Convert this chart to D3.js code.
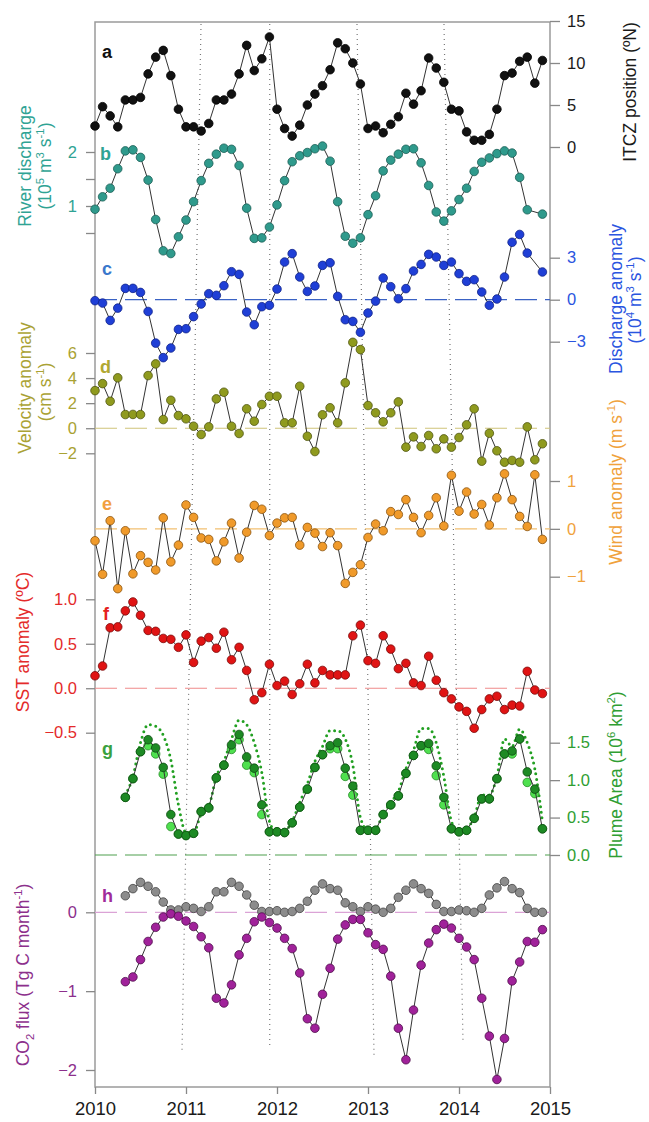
<!DOCTYPE html>
<html>
<head>
<meta charset="UTF-8">
<script src="https://d3js.org/d3.v7.min.js"></script>
<style>
  body { margin: 0; background: #fff; }
  svg { font-family: Arial, "Liberation Sans", sans-serif; }
</style>
</head>
<body>
<svg width="649" height="1122"></svg>
<script>
// monthly series Jan 2010 .. Dec 2014
const yearTicks = [2010, 2011, 2012, 2013, 2014, 2015];
const months = d3.range(60).map(i => 2010 + i / 12);

const itcz = [2.5,4.8,3.7,2.4,5.6,5.6,5.9,8.7,10.7,11.5,8.5,4.5, 2.4,2.4,1.9,2.8,5.6,5.6,6.3,8.7,12.1,9.1,10.5,13.1,
  4.5,2.2,1.3,2.6,5.0,6.3,7.3,9.2,12.4,11.7,10.0,7.5, 2.2,2.5,1.7,2.7,3.6,6.4,5.1,6.7,10.6,9.4,7.7,4.5,
  4.3,1.8,0.8,0.8,1.5,4.5,8.5,8.8,10.2,10.7,7.6,10.3];
const discharge = [0.94,1.17,1.33,1.69,2.02,2.04,1.90,1.48,0.75,0.17,0.12,0.43, 0.74,1.08,1.47,1.79,1.96,2.07,2.05,1.75,0.96,0.40,0.41,0.61,
  1.02,1.47,1.82,1.93,1.99,2.06,2.11,1.83,1.08,0.44,0.31,0.41, 0.84,1.19,1.65,1.85,1.96,2.05,2.06,1.80,1.38,0.89,0.72,0.91,
  1.12,1.33,1.64,1.81,1.89,1.97,2.02,1.98,1.53,0.93,null,0.85];
const dischargeAnom = [-0.07,-0.24,-1.48,-0.6,0.81,0.81,0.52,-0.84,-3.1,-4.14,-3.45,-2.12, -2.07,-1.21,-0.31,0.43,0.31,1.0,2.0,1.81,-0.88,-1.79,-0.5,-0.4,
  0.76,2.69,3.29,1.62,0.59,0.98,2.45,2.64,0.24,-1.43,-1.55,-2.33, -0.95,-0.1,1.55,0.93,0.07,0.79,2.05,2.52,3.24,3.05,2.45,2.69,
  1.86,1.31,1.43,0.55,-0.4,0.05,1.62,4.1,4.66,3.33,null,1.98];
const velocityAnom = [3.0,3.56,2.15,4.02,1.09,1.1,1.09,4.2,5.13,0.69,2.23,1.01, 0.75,0.16,-0.5,0.11,2.34,2.87,0.16,-0.42,1.55,0.56,1.89,2.55,
  2.55,0.43,0.43,3.35,-0.64,-1.86,1.07,1.63,0.43,3.62,6.85,6.27, 1.81,1.23,0.51,1.23,2.1,-1.51,-0.69,-1.46,-0.58,-1.64,-0.85,-1.51,
  -0.74,0.27,1.55,-2.63,-0.4,-1.8,-2.71,-2.57,-2.71,0.11,-2.52,-1.24];
const windAnom = [-0.25,-0.95,0.17,-1.25,-0.04,-0.94,-0.56,-0.7,-0.86,0.23,-0.69,-0.34, 0.5,0.24,-0.19,-0.22,-0.67,-0.27,0.12,-0.61,-0.07,0.49,0.41,-0.14,
  0.12,0.23,0.24,-0.34,0.03,-0.09,-0.37,-0.08,-0.35,-1.14,-0.91,-0.75, -0.18,0.1,-0.04,0.36,0.3,0.61,0.24,-0.08,0.28,0.65,0.06,1.12,
  0.37,0.77,0.31,0.51,0.08,0.65,1.15,0.61,0.26,0.05,1.13,-0.22];
const sstAnom = [0.14,0.25,0.68,0.69,0.87,0.97,0.82,0.65,0.64,0.56,0.55,0.46, 0.6,0.29,0.53,0.57,0.45,0.63,0.32,0.46,0.2,-0.13,-0.05,0.27,
  0.03,0.08,-0.07,0.05,0.27,0.06,0.2,0.15,0.15,0.15,0.59,0.71, 0.31,0.28,0.59,0.44,0.22,0.28,0.06,0.03,0.36,0.09,-0.05,-0.12,
  -0.21,-0.26,-0.45,-0.24,-0.12,-0.09,-0.24,-0.19,-0.2,0.19,-0.02,-0.06];
const plumeArea = [null,null,null,null,0.77,1.02,1.38,1.54,1.43,1.17,0.54,0.28, 0.26,0.29,0.58,0.63,1.03,1.2,1.47,1.61,1.31,1.16,0.67,0.31,
  0.31,0.3,0.43,0.64,0.88,1.17,1.34,1.46,1.5,1.16,0.92,0.33, 0.33,0.33,0.54,0.67,0.79,1.09,1.33,1.46,1.49,1.19,0.77,0.35,
  0.31,0.33,0.49,0.75,0.75,1.02,1.35,1.39,1.55,1.11,0.88,0.35];
const plumeAreaAlt = [null,null,null,null,0.77,1.02,1.38,1.46,1.35,1.08,0.38,0.28, 0.26,0.29,0.58,0.63,1.03,1.2,1.41,1.54,1.2,1.1,0.54,0.31,
  0.31,0.3,0.43,0.64,0.88,1.17,1.34,1.42,1.42,1.05,0.8,0.33, 0.33,0.33,0.54,0.67,0.79,1.09,1.33,1.46,1.41,1.06,0.67,0.35,
  0.31,0.33,0.49,0.75,0.75,1.02,1.35,1.35,1.55,0.97,0.82,0.35];
const plumeClim = [null,null,null,null,0.8,1.05,1.5,1.74,1.72,1.6,1.27,0.67, 0.3,0.3,0.55,0.65,1.05,1.25,1.55,1.8,1.74,1.5,1.1,0.45,
  0.3,0.32,0.45,0.7,0.95,1.25,1.45,1.66,1.66,1.55,1.2,0.5, 0.33,0.35,0.55,0.7,0.85,1.15,1.4,1.69,1.69,1.5,1.05,0.45,
  0.3,0.35,0.5,0.8,0.8,1.05,1.55,1.45,1.68,1.5,1.15,0.45];
const co2Gray = [null,null,null,null,0.21,0.3,0.38,0.33,0.26,0.13,0.03,0.03, 0.07,0.05,0.01,0.07,0.26,0.26,0.38,0.33,0.22,0.09,0.01,0.01,
  0.02,0,0.01,0.05,0.14,0.28,0.36,0.3,0.28,0.12,0.07,0.01, 0.07,0.04,0,0.05,0.19,0.28,0.36,0.3,0.24,0.1,0.01,0.01,
  0.03,0.02,0,0.05,0.22,0.31,0.39,0.3,0.25,0.05,0,0];
const co2Flux = [null,null,null,null,-0.88,-0.82,-0.6,-0.37,-0.19,-0.06,-0.02,-0.05, -0.11,-0.18,-0.31,-0.45,-1.09,-1.15,-0.92,-0.54,-0.33,-0.12,-0.06,-0.13,
  -0.2,-0.33,-0.46,-0.77,-1.35,-1.47,-1.04,-0.71,-0.34,-0.16,-0.09,-0.09, -0.26,-0.41,-0.47,-0.81,-1.47,-1.87,-1.24,-0.67,-0.39,-0.22,-0.15,-0.2,
  -0.33,-0.44,-0.6,-1.09,-1.57,-2.12,-1.6,-0.87,-0.63,-0.37,-0.38,-0.22];

// slanted dotted guide lines: [top year, bottom year, bottom CO2 value]
const guides = [[2011.165, 2010.956, -1.77], [2011.92, 2011.92, -1.73], [2012.879, 2013.066, -1.81], [2013.835, 2014.044, -1.65]];

const svg = d3.select("svg");
const plotLeft = 95, plotRight = 550, plotTop = 22, plotBottom = 1087;

const x = d3.scaleLinear().domain([2010, 2015]).range([plotLeft, plotRight]);

// one y scale per panel
const yA = d3.scaleLinear().domain([0, 15]).range([147, 21]);
const yB = d3.scaleLinear().domain([0.5, 2]).range([233, 152]);
const yC = d3.scaleLinear().domain([-3, 3]).range([341.7, 257.7]);
const yD = d3.scaleLinear().domain([-2, 6]).range([453.3, 353]);
const yE = d3.scaleLinear().domain([-1, 1]).range([576.7, 481]);
const yF = d3.scaleLinear().domain([-0.5, 1]).range([732.7, 599.3]);
const yG = d3.scaleLinear().domain([0, 1.5]).range([855, 742.7]);
const yH = d3.scaleLinear().domain([-2, 0]).range([1070, 912.3]);

// frame
svg.append("rect").attr("x", plotLeft).attr("y", plotTop).attr("width", plotRight - plotLeft).attr("height", plotBottom - plotTop)
  .attr("fill", "none").attr("stroke", "#9a9a9a").attr("stroke-width", 1.5);

// guide lines
svg.append("g").selectAll("line").data(guides).join("line")
  .attr("x1", d => x(d[0])).attr("y1", plotTop + 2)
  .attr("x2", d => x(d[1])).attr("y2", d => yH(d[2]))
  .attr("stroke", "#777").attr("stroke-width", 1.2).attr("stroke-dasharray", "1,4");

// zero reference lines
const zeros = [[yC, "#3a62c4"], [yD, "#cfc47a"], [yE, "#f2c071"], [yF, "#f08a8a"], [yG, "#4f9f4f"], [yH, "#dba3d6"]];
zeros.forEach(([s, c]) => {
  svg.append("line").attr("x1", plotLeft).attr("x2", plotRight).attr("y1", s(0)).attr("y2", s(0))
    .attr("stroke", c).attr("stroke-width", 1.2).attr("stroke-dasharray", "22,8");
});

function axis(gen, scale, xpos, ticks, fmt, color) {
  const isLeft = gen === d3.axisLeft;
  const g = svg.append("g").attr("transform", `translate(${xpos},0)`)
    .call(gen(scale).tickValues(ticks).tickFormat(fmt).tickSize(isLeft ? 9 : 10).tickPadding(isLeft ? 9 : 7));
  g.select(".domain").remove();
  g.selectAll(".tick line").attr("stroke", "#888").attr("stroke-width", 1.3);
  g.selectAll(".tick text").attr("fill", color).style("font-size", "16.5px").style("font-family", "Arial, 'Liberation Sans', sans-serif");
}
axis(d3.axisRight, yA, plotRight, [0, 5, 10, 15], d3.format("d"), "#1a1a1a");
axis(d3.axisLeft, yB, plotLeft, [0.5, 1, 1.5, 2], d => Number.isInteger(d) ? d : "", "#2fa394");
axis(d3.axisRight, yC, plotRight, [-3, 0, 3], d3.format("d"), "#2a55e0");
axis(d3.axisLeft, yD, plotLeft, [-2, 0, 2, 4, 6], d3.format("d"), "#a9a233");
axis(d3.axisRight, yE, plotRight, [-1, 0, 1], d3.format("d"), "#f0a23c");
axis(d3.axisLeft, yF, plotLeft, [-0.5, 0, 0.5, 1], d3.format(".1f"), "#e42a2a");
axis(d3.axisRight, yG, plotRight, [0, 0.5, 1, 1.5], d3.format(".1f"), "#2f9e32");
axis(d3.axisLeft, yH, plotLeft, [-2, -1, 0], d3.format("d"), "#8c2f8c");

const xg = svg.append("g").attr("transform", `translate(0,${plotBottom})`)
  .call(d3.axisBottom(x).tickValues(yearTicks).tickFormat(d3.format("d")).tickSize(7).tickPadding(8));
xg.select(".domain").remove();
xg.selectAll(".tick line").attr("stroke", "#888").attr("stroke-width", 1.3);
xg.selectAll(".tick text").attr("fill", "#1a1a1a").style("font-size", "18.5px");

// series drawing
function series(values, y, fill, stroke, r, withLine = true) {
  const pts = values.map((v, i) => [months[i], v]).filter(d => d[1] !== null);
  if (withLine) {
    svg.append("path").datum(pts)
      .attr("d", d3.line().x(d => x(d[0])).y(d => y(d[1])))
      .attr("fill", "none").attr("stroke", "#333").attr("stroke-width", 1);
  }
  svg.append("g").selectAll("circle").data(pts).join("circle")
    .attr("cx", d => x(d[0])).attr("cy", d => y(d[1])).attr("r", r)
    .attr("fill", fill).attr("stroke", stroke).attr("stroke-width", 0.8);
}

series(itcz, yA, "#111", "#000", 4.3);
series(discharge, yB, "#2f9a8c", "#1c5e55", 4.3);
series(dischargeAnom, yC, "#1f3fd6", "#10238a", 4.3);
series(velocityAnom, yD, "#8f9a1e", "#4f5510", 4.3);
series(windAnom, yE, "#f09a2a", "#8a5410", 4.3);
series(sstAnom, yF, "#e01414", "#7a0a0a", 4.3);

// plume: climatology dotted, alt light circles, main dark circles
const climPts = plumeClim.map((v, i) => [months[i], v]).filter(d => d[1] !== null);
svg.append("path").datum(climPts)
  .attr("d", d3.line().curve(d3.curveMonotoneX).x(d => x(d[0])).y(d => yG(d[1])))
  .attr("fill", "none").attr("stroke", "#22a022").attr("stroke-width", 3)
  .attr("stroke-linecap", "round").attr("stroke-dasharray", "0,5.5");
series(plumeAreaAlt, yG, "#4fe04f", "#2a8a2a", 4.3, false);
series(plumeArea, yG, "#1d8a24", "#0c4a10", 4.3);

series(co2Gray, yH, "#8c8c8c", "#444", 4.3);
series(co2Flux, yH, "#a0229a", "#4e0c4a", 4.3);

// panel letters
const letters = [["a", 102, 58, "#111"], ["b", 100, 160, "#2fa394"], ["c", 102, 275, "#3a78cc"], ["d", 100, 373, "#b0a832"],
  ["e", 102, 510, "#f2a040"], ["f", 103, 620, "#e42020"], ["g", 102, 755, "#3aa140"], ["h", 102, 902, "#a02c9a"]];
svg.append("g").selectAll("text").data(letters).join("text")
  .attr("x", d => d[1]).attr("y", d => d[2]).attr("fill", d => d[3])
  .style("font-size", "18px").style("font-weight", "bold").text(d => d[0]);

// axis titles with super/subscripts (all read bottom-to-top)
function rich(xp, yp, parts, color, size) {
  const t = svg.append("text").attr("transform", `translate(${xp},${yp}) rotate(-90)`)
    .attr("text-anchor", "middle").attr("fill", color).style("font-size", size + "px");
  let shift = 0;
  parts.forEach(([s, kind]) => {
    const target = kind === "sup" ? -size * 0.42 : kind === "sub" ? size * 0.28 : 0;
    const ts = t.append("tspan").attr("dy", target - shift).text(s);
    if (kind) ts.style("font-size", (size * 0.65) + "px");
    shift = target;
  });
}
const titleSize = 17.5;
rich(31, 166, [["River discharge"]], "#2fa394", titleSize);
rich(51, 166, [["(10"], ["5", "sup"], [" m"], ["3", "sup"], [" s"], ["-1", "sup"], [")"]], "#2fa394", titleSize);
rich(31, 388, [["Velocity anomaly"]], "#aaa235", titleSize);
rich(51, 392, [["(cm s"], ["-1", "sup"], [")"]], "#aaa235", titleSize);
rich(29, 642, [["SST anomaly (ºC)"]], "#e42a2a", titleSize);
rich(29, 975, [["CO"], ["2", "sub"], [" flux (Tg C month"], ["-1", "sup"], [")"]], "#8c2f8c", titleSize);
rich(636, 92, [["ITCZ position (ºN)"]], "#1a1a1a", titleSize);
rich(622, 299, [["Discharge anomaly"]], "#2a55e0", titleSize);
rich(641, 300, [["(10"], ["4", "sup"], [" m"], ["3", "sup"], [" s"], ["-1", "sup"], [")"]], "#2a55e0", titleSize);
rich(622, 482, [["Wind anomaly (m s"], ["-1", "sup"], [")"]], "#f0a23c", titleSize);
rich(622, 775, [["Plume Area (10"], ["6", "sup"], [" km"], ["2", "sup"], [")"]], "#2f9e32", titleSize);
</script>
</body>
</html>
